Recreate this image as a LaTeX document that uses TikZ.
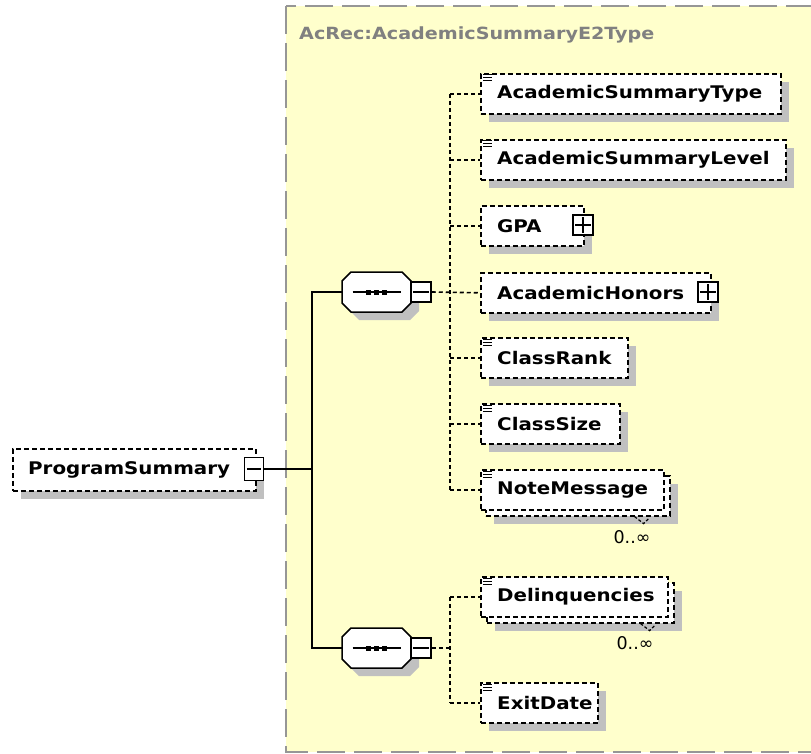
\documentclass[tikz,border=0pt]{standalone}
\usepackage{fontspec}
\usetikzlibrary{shadows}
\newfontfamily\elfont[FakeStretch=1.14]{DejaVu Sans}
\newfontfamily\lblfont{DejaVu Sans}
\definecolor{ybg}{RGB}{255,255,204}
\definecolor{ybd}{RGB}{150,150,150}
\definecolor{shc}{RGB}{192,192,192}
\definecolor{titlec}{RGB}{128,128,128}
\tikzset{
  ybox/.style={fill=ybg, draw=ybd, line width=2pt, dash pattern=on 28pt off 9pt},
  elbox/.style={draw=black, dash pattern=on 5pt off 3pt, line width=1.6pt, fill=white,
    anchor=north west, minimum height=40pt, inner sep=0pt},
  elshadow/.style={drop shadow={shadow xshift=8pt, shadow yshift=-8pt, fill=shc, opacity=1, draw=none}},
  eltext/.style={anchor=west, inner sep=0pt, text=black, font=\elfont\bfseries\fontsize{17.4}{20}\selectfont},
  titletext/.style={anchor=west, inner sep=0pt, text=titlec, font=\elfont\bfseries\fontsize{16.8}{20}\selectfont},
  lbl/.style={inner sep=0pt, text=black, font=\lblfont\fontsize{17.5}{20}\selectfont},
  pmbox/.style={draw=black, solid, line width=1.5pt, fill=white, minimum width=20pt, minimum height=20pt, inner sep=0pt},
  pmline/.style={draw=black, solid, line width=1.3pt},
  iconline/.style={draw=black, solid, line width=1pt},
  octline/.style={draw=black, solid, line width=1.5pt, fill=white},
  solidconn/.style={draw=black, solid, line width=1.8pt},
  dashconn/.style={draw=black, line width=1.6pt, dash pattern=on 4pt off 3pt},
  notch/.style={draw=black, line width=1.2pt, dash pattern=on 3pt off 2pt}
}
% element box with shadow and text
\newcommand\elbx[5]{%
  \node[elbox, elshadow, minimum width=#4pt] (#1) at (#2,#3) {};
  \node[eltext] (#1-t) at ([xshift=17pt]#1.west) {#5};}
\newcommand\elicon[1]{%
  \draw[iconline] ([shift={(3pt,-2pt)}]#1.north west) -- ++(9,0)
                  ([shift={(3pt,-5pt)}]#1.north west) -- ++(9,0)
                  ([shift={(3pt,-8pt)}]#1.north west) -- ++(9,0);}
\newcommand\minusbox[3]{%
  \node[pmbox] (#1) at (#2,#3) {};
  \draw[pmline] ([xshift=3pt]#1.west) -- ([xshift=-3pt]#1.east);}
\newcommand\plusbox[3]{%
  \minusbox{#1}{#2}{#3}%
  \draw[pmline] ([yshift=-3pt]#1.north) -- ([yshift=3pt]#1.south);}
\newcommand\seqnode[3]{%
  \begin{scope}[shift={(#2+8,#3+8)}]
    \fill[shc] (-25.5,-20) -- (25.5,-20) -- (34.5,-11) -- (34.5,11) -- (25.5,20) -- (-25.5,20) -- (-34.5,11) -- (-34.5,-11) -- cycle;
  \end{scope}
  \begin{scope}[shift={(#2,#3)}]
    \path[octline] (-25.5,-20) -- (25.5,-20) -- (34.5,-11) -- (34.5,11) -- (25.5,20) -- (-25.5,20) -- (-34.5,11) -- (-34.5,-11) -- cycle;
    \draw[line width=1.4pt] (-24,0) -- (24,0);
    \fill (-10.5,-2.5) rectangle (-5.5,2.5);
    \fill (-2.5,-2.5) rectangle (2.5,2.5);
    \fill (5.5,-2.5) rectangle (10.5,2.5);
  \end{scope}
  \node[inner sep=0pt, minimum width=69pt, minimum height=40pt] (#1) at (#2,#3) {};}
\begin{document}
\begin{tikzpicture}[x=1pt,y=-1pt]
\useasboundingbox (0,0) rectangle (811,754);
\fill[white] (0,0) rectangle (811,754);
% complex type background
\path[ybox] (286,6) rectangle (840,752);
\node[titletext] (title) at (299,35) {AcRec:AcademicSummaryE2Type};

% root element
\node[elbox, elshadow, minimum width=243pt, minimum height=42pt] (ps) at (12,448) {};
\node[eltext] (ps-t) at ([xshift=16pt]ps.west) {ProgramSummary};
\node[pmbox, minimum width=19pt, minimum height=23pt] (psm) at (254,469) {};
\draw[pmline] ([xshift=3pt]psm.west) -- ([xshift=-3pt]psm.east);

% sequences
\seqnode{s1}{376.5}{292}
\minusbox{s1m}{421}{292}
\seqnode{s2}{376.5}{648}
\minusbox{s2m}{421}{648}

% children of first sequence
\elbx{ast}{480}{73}{300}{AcademicSummaryType}\elicon{ast}
\elbx{asl}{480}{139}{305}{AcademicSummaryLevel}\elicon{asl}
\elbx{gpa}{480}{205}{103}{GPA}\plusbox{gpap}{583}{225}
\elbx{ah}{480}{272}{230}{AcademicHonors}\plusbox{ahp}{708}{292}
\elbx{cr}{480}{337}{147}{ClassRank}\elicon{cr}
\elbx{cs}{480}{403}{139}{ClassSize}\elicon{cs}
% NoteMessage (multiple)
\node[elbox, elshadow, minimum width=184pt] (nmb) at (485,475) {};
\draw[notch] ([xshift=-36pt]nmb.south east) -- ++(9,7) -- ++(6,-6);
\node[elbox, minimum width=183pt] (nm) at (480,469) {};
\node[eltext] (nm-t) at ([xshift=17pt]nm.west) {NoteMessage};
\elicon{nm}
\node[lbl] (nmmult) at (632,537) {0..∞};

% children of second sequence
\node[elbox, elshadow, minimum width=187pt] (dlb) at (486,582) {};
\draw[notch] ([xshift=-34pt]dlb.south east) -- ++(9,7) -- ++(6,-6);
\node[elbox, minimum width=187pt] (dl) at (480,576) {};
\node[eltext] (dl-t) at ([xshift=17pt]dl.west) {Delinquencies};
\elicon{dl}
\node[lbl] (dlmult) at (635,643) {0..∞};
\elbx{ed}{480}{682}{117}{ExitDate}\elicon{ed}

% connectors
\coordinate (trunk) at (312,469);
\coordinate (bus) at (450,0);
\draw[solidconn] (psm.east) -- (psm.east -| trunk);
\draw[solidconn] (s1.west) -- (s1.west -| trunk) -- (s2.west -| trunk) -- (s2.west);
\draw[dashconn] (s1m.east) -- (ah.west);
\draw[dashconn] (ast.west -| bus) -- (nm.west -| bus);
\foreach \c in {ast,asl,gpa,cr,cs,nm}{\draw[dashconn] (\c.west -| bus) -- (\c.west);}
\draw[dashconn] (s2m.east) -- (s2m.east -| bus);
\draw[dashconn] (dl.west -| bus) -- (ed.west -| bus);
\foreach \c in {dl,ed}{\draw[dashconn] (\c.west -| bus) -- (\c.west);}
\end{tikzpicture}
\end{document}
